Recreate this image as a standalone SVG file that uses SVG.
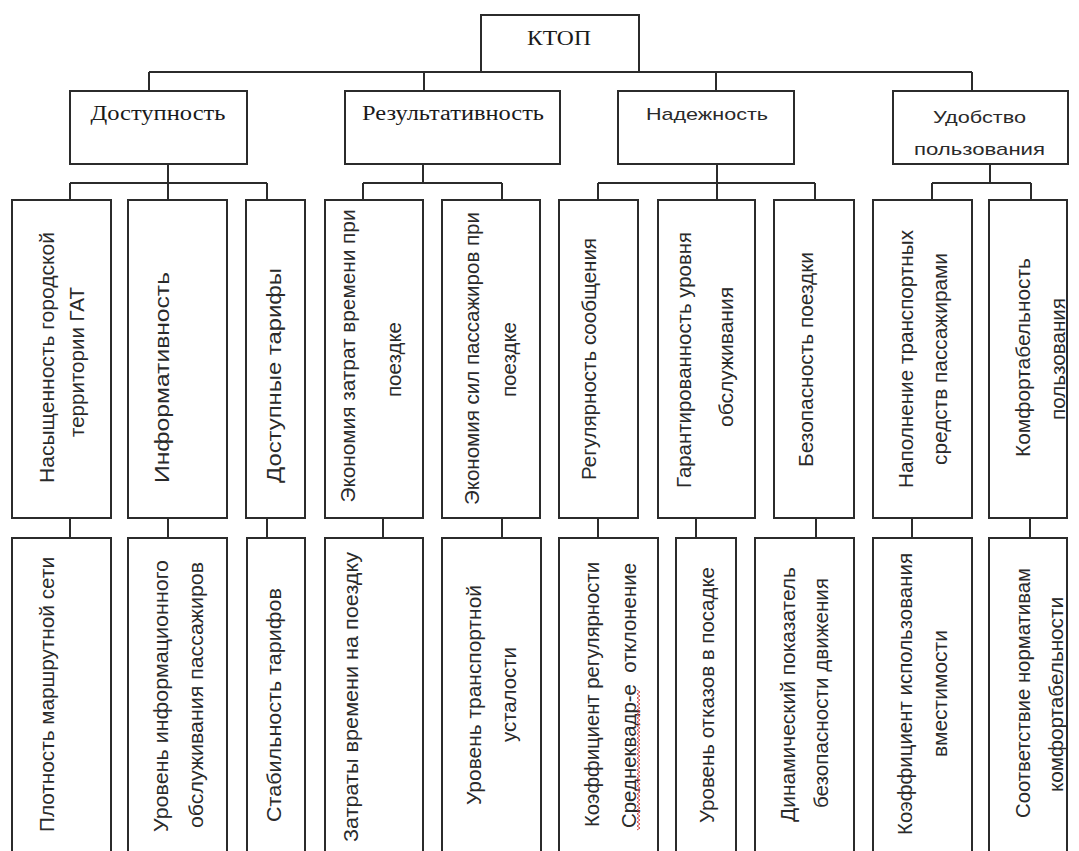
<svg xmlns="http://www.w3.org/2000/svg" width="1079" height="851" viewBox="0 0 1079 851">
<style>
.box{fill:#fff;stroke:#2b2b2b;stroke-width:2}
.conn{fill:none;stroke:#2b2b2b;stroke-width:2}
.serif{font-family:"Liberation Serif","Times New Roman",serif;fill:#1a1a1a;text-anchor:middle}
.sans{font-family:"Liberation Sans",Arial,sans-serif;fill:#2a2a2a;text-anchor:middle}
.h{font-size:17px}
.v{font-size:20px}
.sq{fill:none;stroke:#d04040;stroke-width:1}
</style>
<rect width="1079" height="851" fill="#fff"/>
<g id="connectors">
<path class="conn" d="M149 72H972M149 72V91M424 72V91M716 72V91M972 72V91"/>
<path class="conn" d="M168 164V183M70 183H267M70 183V200M168 183V200M267 183V200"/>
<path class="conn" d="M423 164V183M363 183H502M363 183V200M502 183V200"/>
<path class="conn" d="M717 164V183M598 183H815M598 183V200M717 183V200M815 183V200"/>
<path class="conn" d="M990 164V183M932 183H1031M932 183V200M1031 183V200"/>
<path class="conn" d="M70 518V538M168 518V538M267 518V538M383 518V538M502 518V538M598 518V538M696 518V538M816 518V538M912 518V538M1030 518V538"/>
</g>
<g id="ktop"><rect class="box" x="481" y="15" width="158" height="57"/><text class="serif" x="559" y="45" font-size="22" textLength="64" lengthAdjust="spacingAndGlyphs">КТОП</text></g>
<g id="dostupnost"><rect class="box" x="70" y="91" width="177" height="73"/><text class="serif" x="158" y="120" font-size="20" textLength="135" lengthAdjust="spacingAndGlyphs">Доступность</text></g>
<g id="rezultativnost"><rect class="box" x="345" y="91" width="215" height="73"/><text class="serif" x="453" y="120" font-size="20" textLength="182" lengthAdjust="spacingAndGlyphs">Результативность</text></g>
<g id="nadezhnost"><rect class="box" x="618" y="91" width="176" height="73"/><text class="sans h" x="707" y="120" textLength="122" lengthAdjust="spacingAndGlyphs">Надежность</text></g>
<g id="udobstvo"><rect class="box" x="893" y="91" width="175" height="73"/><text class="sans h" x="979.5" y="123" textLength="93" lengthAdjust="spacingAndGlyphs">Удобство</text><text class="sans h" x="979.5" y="155" textLength="131" lengthAdjust="spacingAndGlyphs">пользования</text></g>

<g id="l2-1"><rect class="box" x="12" y="200" width="99" height="318"/><text class="sans v" transform="translate(48,357.5) rotate(-90)" y="6" textLength="251" lengthAdjust="spacingAndGlyphs">Насыщенность городской</text><text class="sans v" transform="translate(78,362) rotate(-90)" y="6" textLength="150" lengthAdjust="spacingAndGlyphs">территории ГАТ</text></g>
<g id="l2-2"><rect class="box" x="128" y="200" width="99" height="318"/><text class="sans v" transform="translate(163,377.5) rotate(-90)" y="6" textLength="211" lengthAdjust="spacingAndGlyphs">Информативность</text></g>
<g id="l2-3"><rect class="box" x="246" y="200" width="59" height="318"/><text class="sans v" transform="translate(275,375.5) rotate(-90)" y="6" textLength="215" lengthAdjust="spacingAndGlyphs">Доступные тарифы</text></g>
<g id="l2-4"><rect class="box" x="325" y="200" width="98" height="318"/><text class="sans v" transform="translate(349,356) rotate(-90)" y="6" textLength="293" lengthAdjust="spacingAndGlyphs">Экономия затрат времени при</text><text class="sans v" transform="translate(395,359.5) rotate(-90)" y="6" textLength="75" lengthAdjust="spacingAndGlyphs">поездке</text></g>
<g id="l2-5"><rect class="box" x="442" y="200" width="98" height="318"/><text class="sans v" transform="translate(473,358.5) rotate(-90)" y="6" textLength="293" lengthAdjust="spacingAndGlyphs">Экономия сил пассажиров при</text><text class="sans v" transform="translate(510,359.5) rotate(-90)" y="6" textLength="75" lengthAdjust="spacingAndGlyphs">поездке</text></g>
<g id="l2-6"><rect class="box" x="559" y="200" width="79" height="318"/><text class="sans v" transform="translate(590,359) rotate(-90)" y="6" textLength="242" lengthAdjust="spacingAndGlyphs">Регулярность сообщения</text></g>
<g id="l2-7"><rect class="box" x="658" y="200" width="97" height="318"/><text class="sans v" transform="translate(685,360) rotate(-90)" y="6" textLength="256" lengthAdjust="spacingAndGlyphs">Гарантированность уровня</text><text class="sans v" transform="translate(727,357) rotate(-90)" y="6" textLength="140" lengthAdjust="spacingAndGlyphs">обслуживания</text></g>
<g id="l2-8"><rect class="box" x="774" y="200" width="80" height="318"/><text class="sans v" transform="translate(807,359.5) rotate(-90)" y="6" textLength="215" lengthAdjust="spacingAndGlyphs">Безопасность поездки</text></g>
<g id="l2-9"><rect class="box" x="873" y="200" width="99" height="318"/><text class="sans v" transform="translate(907,359) rotate(-90)" y="6" textLength="258" lengthAdjust="spacingAndGlyphs">Наполнение транспортных</text><text class="sans v" transform="translate(941,359) rotate(-90)" y="6" textLength="212" lengthAdjust="spacingAndGlyphs">средств пассажирами</text></g>
<g id="l2-10"><rect class="box" x="989" y="200" width="78" height="318"/><text class="sans v" transform="translate(1024,357.5) rotate(-90)" y="6" textLength="199" lengthAdjust="spacingAndGlyphs">Комфортабельность</text><text class="sans v" transform="translate(1059,359) rotate(-90)" y="6" textLength="122" lengthAdjust="spacingAndGlyphs">пользования</text></g>

<g id="l3-1"><rect class="box" x="12" y="538" width="99" height="330"/><text class="sans v" transform="translate(48,694.5) rotate(-90)" y="6" textLength="275" lengthAdjust="spacingAndGlyphs">Плотность маршрутной сети</text></g>
<g id="l3-2"><rect class="box" x="128" y="538" width="99" height="330"/><text class="sans v" transform="translate(162,696) rotate(-90)" y="6" textLength="272" lengthAdjust="spacingAndGlyphs">Уровень информационного</text><text class="sans v" transform="translate(197,695) rotate(-90)" y="6" textLength="266" lengthAdjust="spacingAndGlyphs">обслуживания пассажиров</text></g>
<g id="l3-3"><rect class="box" x="247" y="538" width="58" height="330"/><text class="sans v" transform="translate(275,705) rotate(-90)" y="6" textLength="234" lengthAdjust="spacingAndGlyphs">Стабильность тарифов</text></g>
<g id="l3-4"><rect class="box" x="325" y="538" width="98" height="330"/><text class="sans v" transform="translate(352,697) rotate(-90)" y="6" textLength="290" lengthAdjust="spacingAndGlyphs">Затраты времени на поездку</text></g>
<g id="l3-5"><rect class="box" x="442" y="538" width="99" height="330"/><text class="sans v" transform="translate(475,695) rotate(-90)" y="6" textLength="220" lengthAdjust="spacingAndGlyphs">Уровень транспортной</text><text class="sans v" transform="translate(510,694.5) rotate(-90)" y="6" textLength="95" lengthAdjust="spacingAndGlyphs">усталости</text></g>
<g id="l3-6"><rect class="box" x="559" y="538" width="99" height="330"/><text class="sans v" transform="translate(593,694.5) rotate(-90)" y="6" textLength="265" lengthAdjust="spacingAndGlyphs">Коэффициент регулярности</text><text class="sans v" transform="translate(630,695.5) rotate(-90)" y="6" textLength="265" lengthAdjust="spacingAndGlyphs" xml:space="preserve">Среднеквадр-е  отклонение</text><path class="sq" d="M637 830l3 -2l-3 -2l3 -2l-3 -2l3 -2l-3 -2l3 -2l-3 -2l3 -2l-3 -2l3 -2l-3 -2l3 -2l-3 -2l3 -2l-3 -2l3 -2l-3 -2l3 -2l-3 -2l3 -2l-3 -2l3 -2l-3 -2l3 -2l-3 -2l3 -2l-3 -2l3 -2l-3 -2l3 -2l-3 -2l3 -2l-3 -2l3 -2l-3 -2l3 -2l-3 -2l3 -2l-3 -2l3 -2l-3 -2l3 -2l-3 -2l3 -2l-3 -2l3 -2l-3 -2l3 -2l-3 -2l3 -2l-3 -2l3 -2l-3 -2l3 -2l-3 -2l3 -2l-3 -2l3 -2l-3 -2l3 -2l-3 -2l3 -2l-3 -2l3 -2l-3 -2l3 -2l-3 -2l3 -2l-3 -2"/></g>
<g id="l3-7"><rect class="box" x="676" y="538" width="60" height="330"/><text class="sans v" transform="translate(708,695) rotate(-90)" y="6" textLength="256" lengthAdjust="spacingAndGlyphs">Уровень отказов в посадке</text></g>
<g id="l3-8"><rect class="box" x="755" y="538" width="99" height="330"/><text class="sans v" transform="translate(789,694.5) rotate(-90)" y="6" textLength="255" lengthAdjust="spacingAndGlyphs">Динамический показатель</text><text class="sans v" transform="translate(822,693) rotate(-90)" y="6" textLength="230" lengthAdjust="spacingAndGlyphs">безопасности движения</text></g>
<g id="l3-9"><rect class="box" x="873" y="538" width="99" height="330"/><text class="sans v" transform="translate(906,694) rotate(-90)" y="6" textLength="282" lengthAdjust="spacingAndGlyphs">Коэффициент использования</text><text class="sans v" transform="translate(941,693.5) rotate(-90)" y="6" textLength="127" lengthAdjust="spacingAndGlyphs">вместимости</text></g>
<g id="l3-10"><rect class="box" x="989" y="538" width="78" height="330"/><text class="sans v" transform="translate(1024,693) rotate(-90)" y="6" textLength="250" lengthAdjust="spacingAndGlyphs">Соответствие нормативам</text><text class="sans v" transform="translate(1057,694.5) rotate(-90)" y="6" textLength="195" lengthAdjust="spacingAndGlyphs">комфортабельности</text></g>
</svg>
